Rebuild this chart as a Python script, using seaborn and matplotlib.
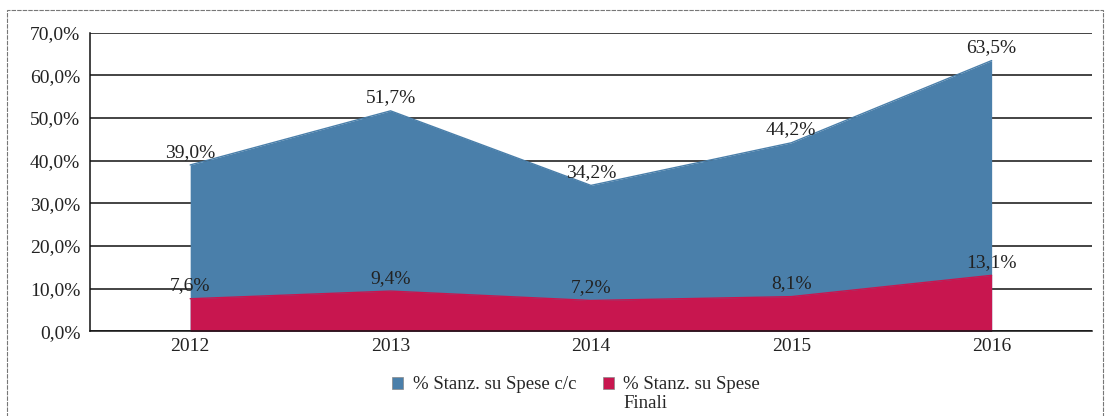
import matplotlib
matplotlib.use("Agg")
import matplotlib.pyplot as plt
import seaborn as sns
import pandas as pd
from matplotlib.patches import Patch, Rectangle
from matplotlib.legend_handler import HandlerPatch

# dati
anni = ["2012", "2013", "2014", "2015", "2016"]
spese_cc = [39.0, 51.7, 34.2, 44.2, 63.5]
spese_finali = [7.6, 9.4, 7.2, 8.1, 13.1]
serie_nomi = ["% Stanz. su Spese c/c\n", "% Stanz. su Spese\nFinali"]
colori = ["#4a7faa", "#c8164f"]

sns.set_style("white")
plt.rcParams["font.family"] = ["Liberation Serif", "DejaVu Serif"]

df = pd.DataFrame({"anno": range(len(anni)), "cc": spese_cc, "finali": spese_finali})

fig = plt.figure(figsize=(11.07, 4.16), dpi=100)
ax = fig.add_axes([0.0813, 0.204, 0.905, 0.717])

# aree sovrapposte (non impilate)
for col, colore in zip(["cc", "finali"], colori):
    ax.fill_between(df["anno"], 0, df[col], color=colore, linewidth=0, zorder=2)
    sns.lineplot(data=df, x="anno", y=col, color=colore, linewidth=1, ax=ax, zorder=3)

# etichette dei valori
for serie in [spese_cc, spese_finali]:
    for i, v in enumerate(serie):
        ax.text(i, v + 1.0, f"{v:.1f}%".replace(".", ","), ha="center", va="bottom",
                fontsize=14, color="#222222", zorder=5)

ax.set_xlim(-0.5, len(anni) - 0.5)
ax.set_ylim(0, 70)
ax.set_xticks(range(len(anni)))
ax.set_xticklabels(anni)
ax.set_yticks(range(0, 71, 10))
ax.set_yticklabels([f"{t:.1f}%".replace(".", ",") for t in range(0, 71, 10)])
ax.tick_params(axis="both", labelsize=14, length=0, colors="#222222")
ax.tick_params(axis="y", pad=7)
ax.tick_params(axis="x", pad=5)
ax.set_xlabel("")
ax.set_ylabel("")

ax.yaxis.grid(True, color="#111111", linewidth=1.1, zorder=1)
ax.set_axisbelow(True)
for s in ["top", "right"]:
    ax.spines[s].set_visible(False)
ax.spines["left"].set_color("#111111")
ax.spines["bottom"].set_color("#111111")
ax.spines["left"].set_linewidth(1.1)
ax.spines["bottom"].set_linewidth(1.1)


# quadratino allineato alla prima riga dell'etichetta
def quadratino(legend, orig_handle, xdescent, ydescent, width, height, fontsize):
    return Rectangle((-xdescent, -ydescent + 0.6 * fontsize), width, height)


handles = [Patch(facecolor=c, edgecolor="#888888", linewidth=0.5) for c in colori]
fig.legend(handles, serie_nomi, loc="upper left", bbox_to_anchor=(0.3475, 0.115),
           ncol=2, frameon=False, fontsize=13.5, handlelength=0.6, handleheight=0.6,
           handletextpad=0.5, columnspacing=1.4, borderaxespad=0, labelspacing=0.2,
           handler_map={Patch: HandlerPatch(patch_func=quadratino)})

# cornice della figura
fig.patches.append(Rectangle((0.006, -0.01), 0.99, 0.985, transform=fig.transFigure,
                             fill=False, edgecolor="#777777", linewidth=0.8,
                             linestyle=(0, (4, 1))))

fig.savefig("out.png", dpi=100)
